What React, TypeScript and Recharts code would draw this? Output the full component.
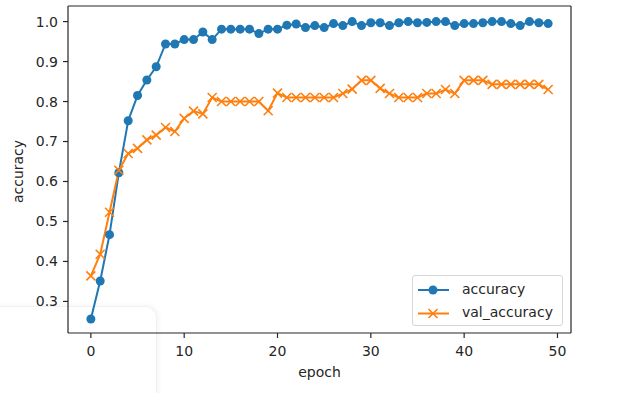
import { LineChart, Line, XAxis, YAxis, Legend, ReferenceLine } from "recharts";

const epochs = [
  0, 1, 2, 3, 4, 5, 6, 7, 8, 9, 10, 11, 12, 13, 14, 15, 16, 17, 18, 19, 20, 21, 22, 23, 24,
  25, 26, 27, 28, 29, 30, 31, 32, 33, 34, 35, 36, 37, 38, 39, 40, 41, 42, 43, 44, 45, 46, 47, 48, 49,
];

const accuracy = [
  0.256, 0.351, 0.467, 0.622, 0.752, 0.815, 0.854, 0.887, 0.944, 0.944,
  0.955, 0.955, 0.974, 0.955, 0.981, 0.981, 0.981, 0.981, 0.97, 0.981,
  0.981, 0.991, 0.994, 0.985, 0.99, 0.985, 0.995, 0.99, 1.0, 0.99,
  0.997, 0.997, 0.99, 0.997, 1.0, 0.997, 0.998, 1.0, 1.0, 0.99,
  0.995, 0.995, 0.997, 1.0, 1.0, 0.995, 0.99, 1.0, 0.997, 0.995,
];

const valAccuracy = [
  0.364, 0.418, 0.523, 0.628, 0.67, 0.683, 0.704, 0.716, 0.735, 0.725,
  0.758, 0.776, 0.769, 0.81, 0.8, 0.8, 0.8, 0.8, 0.8, 0.777,
  0.821, 0.81, 0.81, 0.81, 0.81, 0.81, 0.81, 0.82, 0.831, 0.853,
  0.853, 0.833, 0.82, 0.81, 0.81, 0.81, 0.82, 0.82, 0.83, 0.82,
  0.853, 0.853, 0.853, 0.843, 0.843, 0.843, 0.843, 0.843, 0.843, 0.83,
];

const xTicks = [0, 10, 20, 30, 40, 50];
const yTicks = [0.3, 0.4, 0.5, 0.6, 0.7, 0.8, 0.9, 1.0];

const data = epochs.map((e, i) => ({ epoch: e, accuracy: accuracy[i], val_accuracy: valAccuracy[i] }));

const BLUE = "#1f77b4";
const ORANGE = "#ff7f0e";
const INK = "#262626";
const FONT = "'DejaVu Sans', sans-serif";
const xDomain = [-2.45, 51.45];
const yDomain = [0.221, 1.039];

const XMark = (props: any) => {
  const { cx, cy, index } = props;
  if (cx == null || cy == null) return <g key={index} />;
  const s = 4.5;
  return (
    <path
      key={index}
      d={`M${cx - s},${cy - s}L${cx + s},${cy + s}M${cx - s},${cy + s}L${cx + s},${cy - s}`}
      stroke={ORANGE}
      strokeWidth={1.6}
      fill="none"
    />
  );
};

const LegendBox = () => (
  <div
    style={{
      position: "relative",
      width: 151,
      height: 51,
      boxSizing: "border-box",
      border: "1px solid #d6d6d6",
      borderRadius: 3,
      background: "rgba(255,255,255,0.85)",
      fontFamily: FONT,
      fontSize: 14,
      color: INK,
    }}
  >
    <svg width={40} height={51} style={{ position: "absolute", left: 0, top: 0 }}>
      <line x1={5} x2={36} y1={14} y2={14} stroke={BLUE} strokeWidth={2} />
      <circle cx={20} cy={14} r={4.5} fill={BLUE} />
      <line x1={5} x2={36} y1={37.5} y2={37.5} stroke={ORANGE} strokeWidth={2} />
      <path d="M15.5,33L24.5,42M15.5,42L24.5,33" stroke={ORANGE} strokeWidth={1.6} />
    </svg>
    <span style={{ position: "absolute", left: 49, top: 5, lineHeight: "17px" }}>accuracy</span>
    <span style={{ position: "absolute", left: 49, top: 28, lineHeight: "17px" }}>val_accuracy</span>
  </div>
);

export default function App() {
  const tick = { fontSize: 14, fill: INK, fontFamily: FONT };
  const frame = { stroke: INK, strokeWidth: 1.2 };
  return (
    <div style={{ position: "fixed", left: 0, top: 0, width: 634, height: 393, background: "#fff" }}>
      <div
        style={{
          position: "absolute",
          left: -10,
          top: 306,
          width: 166,
          height: 120,
          borderTopRightRadius: 12,
          borderTop: "1px solid #f1f1f1",
          borderRight: "1px solid #f1f1f1",
          boxShadow: "2px -1px 4px rgba(0,0,0,0.04)",
        }}
      />
      <div style={{ position: "absolute", left: 0, top: 0 }}>
        <LineChart width={634} height={393} data={data} margin={{ top: 6, right: 63, left: 0, bottom: 0 }}>
          <XAxis
            dataKey="epoch"
            type="number"
            domain={xDomain}
            allowDataOverflow
            ticks={xTicks}
            tick={tick}
            tickSize={5}
            tickMargin={8}
            height={60}
            axisLine={frame}
            tickLine={frame}
            label={({ viewBox }: any) => (
              <text
                x={viewBox.x + viewBox.width / 2}
                y={viewBox.y + 44}
                textAnchor="middle"
                fill={INK}
                fontSize={14}
                fontFamily={FONT}
              >
                epoch
              </text>
            )}
          />
          <YAxis
            type="number"
            domain={yDomain}
            allowDataOverflow
            ticks={yTicks}
            tickFormatter={(v: number) => v.toFixed(1)}
            tick={tick}
            tickSize={5}
            tickMargin={5}
            width={68}
            axisLine={frame}
            tickLine={frame}
            label={({ viewBox }: any) => {
              const x = viewBox.x + 23;
              const y = viewBox.y + viewBox.height / 2 + 2;
              return (
                <text
                  x={x}
                  y={y}
                  transform={`rotate(-90, ${x}, ${y})`}
                  textAnchor="middle"
                  fill={INK}
                  fontSize={14}
                  fontFamily={FONT}
                >
                  accuracy
                </text>
              );
            }}
          />
          <ReferenceLine y={yDomain[1]} stroke={INK} strokeWidth={1.2} ifOverflow="visible" />
          <ReferenceLine x={xDomain[1]} stroke={INK} strokeWidth={1.2} ifOverflow="visible" />
          <Legend
            layout="horizontal"
            verticalAlign="middle"
            align="center"
            content={() => <LegendBox />}
            wrapperStyle={{ position: "absolute", left: 412, top: 275, width: 151, height: 51, bottom: "auto", right: "auto" }}
          />
          <Line
            type="linear"
            dataKey="accuracy"
            stroke={BLUE}
            strokeWidth={2}
            dot={{ r: 4.5, fill: BLUE, stroke: BLUE, strokeWidth: 0 }}
            activeDot={false}
            isAnimationActive={false}
          />
          <Line
            type="linear"
            dataKey="val_accuracy"
            stroke={ORANGE}
            strokeWidth={2}
            dot={XMark}
            activeDot={false}
            isAnimationActive={false}
          />
        </LineChart>
      </div>
    </div>
  );
}
